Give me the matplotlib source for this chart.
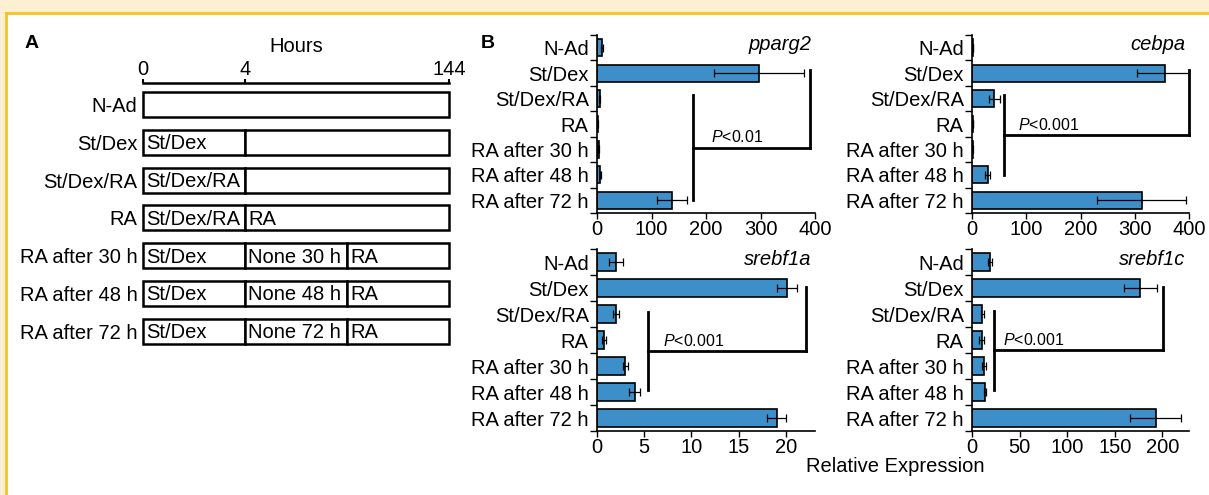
import numpy as np
import matplotlib
matplotlib.use('Agg')
import matplotlib.pyplot as plt
from matplotlib.patches import Rectangle

plt.rcParams['font.family'] = ['Liberation Sans', 'DejaVu Sans']
plt.rcParams['mathtext.fontset'] = 'custom'
plt.rcParams['mathtext.it'] = 'Liberation Sans:italic'
plt.rcParams['mathtext.rm'] = 'Liberation Sans'

W, H = 1209, 495
FS = 14.5
BAR_COLOR = '#3d8fca'

conditions = ['N-Ad', 'St/Dex', 'St/Dex/RA', 'RA', 'RA after 30 h', 'RA after 48 h', 'RA after 72 h']

# panel A: schedule segments per condition (start, end, label) in schematic units
hour_pos = [0, 1, 3]
hour_labels = ['0', '4', '144']
schedule = [
    [(0, 3, '')],
    [(0, 1, 'St/Dex'), (1, 3, '')],
    [(0, 1, 'St/Dex/RA'), (1, 3, '')],
    [(0, 1, 'St/Dex/RA'), (1, 3, 'RA')],
    [(0, 1, 'St/Dex'), (1, 2, 'None 30 h'), (2, 3, 'RA')],
    [(0, 1, 'St/Dex'), (1, 2, 'None 48 h'), (2, 3, 'RA')],
    [(0, 1, 'St/Dex'), (1, 2, 'None 72 h'), (2, 3, 'RA')],
]

# panel B: relative expression
pparg2_mean = [9, 297, 5, 1, 3, 6, 138]
pparg2_err = [2, 83, 1, 0.5, 0.5, 1, 28]
cebpa_mean = [2, 355, 41, 2, 1, 29, 313]
cebpa_err = [0.5, 50, 10, 0.5, 0.3, 5, 82]
srebf1a_mean = [2.0, 20.1, 2.0, 0.7, 3.0, 4.0, 19.0]
srebf1a_err = [0.7, 1.1, 0.3, 0.2, 0.3, 0.6, 1.0]
srebf1c_mean = [19, 177, 11, 10, 13, 14, 193]
srebf1c_err = [2, 17, 2, 3, 2, 1, 27]

# bracket: left x, left span, right x, right top, p text, text x
pparg2_sig = (176, (1.85, 6.0), 390, 0.87, 'P<0.01', 257)
cebpa_sig = (59, (1.85, 5.0), 400, 0.87, 'P<0.001', 142)
srebf1a_sig = (5.4, (1.92, 4.92), 22.1, 0.96, 'P<0.001', 10.2)
srebf1c_sig = (23.5, (1.88, 4.92), 201, 0.96, 'P<0.001', 65)


def px_axes(fig, x0, y0, x1, y1):
    return fig.add_axes([x0 / W, 1 - y1 / H, (x1 - x0) / W, (y1 - y0) / H])


fig = plt.figure(figsize=(W / 100, H / 100), dpi=100)

# page frame
fig.patches.append(Rectangle((0, 1 - 12.5 / H), 1, 12.5 / H, transform=fig.transFigure,
                             facecolor='#fdf0d2', edgecolor='none', zorder=0))
fig.patches.append(Rectangle((0, 0), 4.5 / W, 1, transform=fig.transFigure,
                             facecolor='#fdf0d2', edgecolor='none', zorder=0))
fig.add_artist(plt.Line2D([5.5 / W, 1], [1 - 13 / H, 1 - 13 / H], transform=fig.transFigure,
                          color='#f5c322', lw=2))
fig.add_artist(plt.Line2D([5.5 / W, 5.5 / W], [0, 1 - 13 / H], transform=fig.transFigure,
                          color='#f5c322', lw=2))

fig.text(32 / W, 1 - 43 / H, 'A', fontsize=14, fontweight='bold', ha='center', va='center')
fig.text(488 / W, 1 - 43 / H, 'B', fontsize=14, fontweight='bold', ha='center', va='center')

# ---- panel A ----
axA = px_axes(fig, 143, 83, 449, 350)
axA.set_xlim(0, 3)
axA.set_ylim(6.5, -0.57)
for s in ['left', 'right', 'bottom']:
    axA.spines[s].set_visible(False)
axA.spines['top'].set_linewidth(1.8)
axA.xaxis.tick_top()
axA.xaxis.set_label_position('top')
axA.set_xticks(hour_pos)
axA.set_xticklabels(hour_labels, fontsize=FS)
axA.tick_params(axis='x', length=3, width=1.5, pad=0)
axA.set_xlabel('Hours', fontsize=FS, labelpad=6)
axA.set_yticks(range(len(conditions)))
axA.set_yticklabels(conditions, fontsize=FS)
axA.tick_params(axis='y', length=0, pad=4)
bh = 0.66
for i, segs in enumerate(schedule):
    for (a, b, lab) in segs:
        axA.add_patch(Rectangle((a, i - bh / 2), b - a, bh, facecolor='white',
                                edgecolor='black', lw=1.8, clip_on=False))
        if lab:
            axA.text(a + 0.03, i + 0.04, lab, fontsize=FS, ha='left', va='center')

# ---- panel B ----
genes = [
    ('pparg2', pparg2_mean, pparg2_err, pparg2_sig, (597, 35, 815, 213), 400, [0, 100, 200, 300, 400]),
    ('cebpa', cebpa_mean, cebpa_err, cebpa_sig, (972, 35, 1189, 213), 400, [0, 100, 200, 300, 400]),
    ('srebf1a', srebf1a_mean, srebf1a_err, srebf1a_sig, (597, 249, 815, 431), 23.07, [0, 5, 10, 15, 20]),
    ('srebf1c', srebf1c_mean, srebf1c_err, srebf1c_sig, (972, 249, 1189, 431), 228, [0, 50, 100, 150, 200]),
]

y = np.arange(len(conditions))
for name, mean, err, sig, box, xmax, xt in genes:
    ax = px_axes(fig, *box)
    ax.barh(y, mean, height=0.66, color=BAR_COLOR, edgecolor='black', lw=1.2, zorder=2)
    ax.errorbar(mean, y, xerr=err, fmt='none', ecolor='black', elinewidth=0.9,
                capsize=3, capthick=0.9, zorder=3)
    ax.set_xlim(0, xmax)
    ax.set_ylim(6.5, -0.5)
    ax.spines['top'].set_visible(False)
    ax.spines['right'].set_visible(False)
    ax.spines['left'].set_linewidth(1.2)
    ax.spines['bottom'].set_linewidth(1.2)
    ax.set_xticks(xt)
    ax.set_xticklabels([str(v) for v in xt], fontsize=FS)
    ax.tick_params(axis='x', length=4, width=1.0, pad=1)
    ax.set_yticks(y)
    ax.set_yticklabels(conditions, fontsize=FS)
    ax.tick_params(axis='y', which='major', length=0, pad=6)
    ax.set_yticks(np.arange(-0.5, 7, 1), minor=True)
    ax.tick_params(axis='y', which='minor', length=5, width=1.0)
    ax.text(0.985, 0.944, name, transform=ax.transAxes, fontsize=FS, style='italic',
            ha='right', va='center')

    lx, (ly0, ly1), rx, rtop, ptxt, tx = sig
    mid = (ly0 + ly1) / 2
    kw = dict(color='black', lw=2.0, clip_on=False, zorder=4)
    ax.plot([lx, lx], [ly0, ly1], **kw)
    ax.plot([lx, rx], [mid, mid], **kw)
    ax.plot([rx, rx], [rtop, mid], **kw)
    ax.text(tx, mid - 0.08, r'$P$' + ptxt[1:], fontsize=11.5, ha='center', va='bottom')

fig.text(895 / W, 1 - 467 / H, 'Relative Expression', fontsize=FS, ha='center', va='center')

fig.savefig('out.png', dpi=100)
